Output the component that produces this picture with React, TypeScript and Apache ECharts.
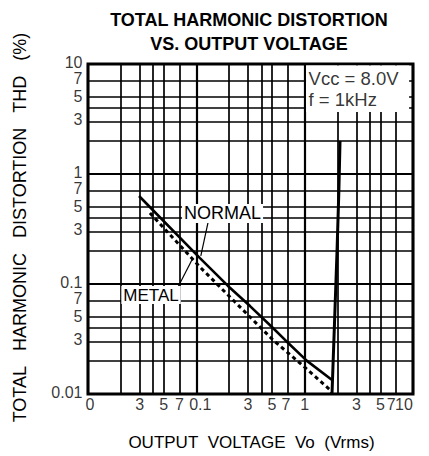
import React, { useEffect, useRef } from "react";
import * as echarts from "echarts";

// ---- data ----
const xGridValues = [0.02, 0.03, 0.04, 0.05, 0.07, 0.2, 0.3, 0.4, 0.5, 0.7, 2, 3, 4, 5, 7];
const yGridValues = [0.02, 0.03, 0.04, 0.05, 0.07, 0.2, 0.3, 0.4, 0.5, 0.7, 2, 3, 4, 5, 7];
const xTickValues = [0.01, 0.03, 0.05, 0.07, 0.1, 0.3, 0.5, 0.7, 1, 3, 5, 7, 10];
const xTickLabels = ["0", "3", "5", "7", "0.1", "3", "5", "7", "1", "3", "5", "7", "10"];
const yTickValues = [0.01, 0.03, 0.05, 0.07, 0.1, 0.3, 0.5, 0.7, 1, 3, 5, 7, 10];
const yTickLabels = ["0.01", "3", "5", "7", "0.1", "3", "5", "7", "1", "3", "5", "7", "10"];

const normalX = [0.0296, 0.108, 0.196, 0.313, 0.51, 0.659, 1.05, 1.79];
const normalY = [0.631, 0.172, 0.096, 0.063, 0.0398, 0.031, 0.02, 0.0134];
const metalX = [0.0373, 0.108, 0.2275, 0.51, 0.945, 1.714, 1.788];
const metalY = [0.442, 0.1427, 0.0686, 0.031, 0.0184, 0.0109, 0.01];
const riseX = [1.788, 1.99, 2.07, 2.12];
const riseY = [0.01, 0.2, 0.72, 2.0];

const normalLeaderX = [0.128, 0.11];
const normalLeaderY = [0.359, 0.18];
const metalLeaderX = [0.0663, 0.093];
const metalLeaderY = [0.09, 0.172];

const curveNames = ["NORMAL", "METAL"];
const curveNameX = [0.1746, 0.0382];
const curveNameY = [0.4376, 0.0794];
const condLines = ["Vcc = 8.0V", "f = 1kHz"];
const condX = [1.075, 1.075];
const condY = [7.38, 4.71];
const condBox = [
  [1.03, 3.66],
  [9.2, 9.7],
];

const titleLines = ["TOTAL HARMONIC DISTORTION", "VS. OUTPUT VOLTAGE"];
const yName = "TOTAL\u00A0\u00A0\u00A0HARMONIC\u00A0\u00A0\u00A0DISTORTION\u00A0\u00A0\u00A0THD\u00A0\u00A0\u00A0(%)";
const xName = "OUTPUT\u00A0\u00A0VOLTAGE\u00A0\u00A0Vo\u00A0\u00A0(Vrms)";

const FONT = "'Liberation Sans', Arial, Helvetica, sans-serif";

const zip = (xs: number[], ys: number[]) => xs.map((x, i) => [x, ys[i]]);

export default function App() {
  const ref = useRef<HTMLDivElement>(null);
  useEffect(() => {
    if (!ref.current) return;
    const chart = echarts.init(ref.current, null, { renderer: "svg" });

    const axisCommon = {
      type: "log",
      logBase: 10,
      min: 0.01,
      max: 10,
      axisLine: { show: false },
      axisTick: { show: false },
      axisLabel: { show: false },
      splitLine: { show: true, lineStyle: { color: "#000", width: 2.2 } },
    };

    const curveBase = {
      type: "line",
      symbol: "none",
      showSymbol: false,
      silent: true,
      z: 3,
      clip: false,
    };

    const textStyle = { color: "#000", fontFamily: FONT, fontSize: 16, textBorderWidth: 0 };

    const xLabelOffset = (i: number) => {
      const t = xTickLabels[i];
      if (t === "10") return [-9, 0];
      if (t === "0.1") return [4, 0];
      if (t === "0") return [2, 0];
      if (t === "7" && xTickValues[i] > 1) return [-5, 0];
      if (t === "7" && xTickValues[i] > 0.1) return [-2, 0];
      return [0, 0];
    };

    const yLabelOffset = (i: number) => {
      const t = yTickLabels[i];
      if (t === "7") return [0, -3];
      if (t === "5") return [0, -1];
      return [0, -2];
    };

    const baseGraphic: any[] = [
      {
        type: "text",
        x: 249,
        y: 19.5,
        style: {
          text: titleLines[0],
          fill: "#000",
          fontFamily: FONT,
          fontWeight: "bold",
          fontSize: 18,
          align: "center",
          verticalAlign: "middle",
        },
      },
      {
        type: "text",
        x: 249,
        y: 43.5,
        style: {
          text: titleLines[1],
          fill: "#000",
          fontFamily: FONT,
          fontWeight: "bold",
          fontSize: 18,
          align: "center",
          verticalAlign: "middle",
        },
      },
      {
        type: "text",
        x: 20,
        y: 227.5,
        rotation: Math.PI / 2,
        style: {
          text: yName,
          fill: "#000",
          fontFamily: FONT,
          fontSize: 18,
          align: "center",
          verticalAlign: "middle",
        },
      },
      {
        type: "text",
        x: 251.5,
        y: 442,
        style: {
          text: xName,
          fill: "#000",
          fontFamily: FONT,
          fontSize: 17,
          align: "center",
          verticalAlign: "middle",
        },
      },
    ];

    const option: any = {
      animation: false,
      backgroundColor: "#fff",
      grid: {
        left: 88,
        top: 64,
        width: 325,
        height: 330,
        show: true,
        borderColor: "#000",
        borderWidth: 3,
        backgroundColor: "transparent",
      },
      xAxis: { ...axisCommon },
      yAxis: { ...axisCommon },
      graphic: baseGraphic,
      series: [
        // minor grid lines
        {
          type: "line",
          data: [[0.01, 0.01]],
          symbol: "none",
          silent: true,
          lineStyle: { width: 0 },
          markLine: {
            silent: true,
            z: 1,
            animation: false,
            symbol: ["none", "none"],
            label: { show: false },
            lineStyle: { color: "#000", width: 1.7, type: "solid" },
            data: [
              ...xGridValues.map((v) => ({ xAxis: v })),
              ...yGridValues.map((v) => ({ yAxis: v })),
            ],
          },
        },
        // white box behind conditions text
        {
          type: "line",
          data: [[0.01, 0.01]],
          symbol: "none",
          silent: true,
          lineStyle: { width: 0 },
          markArea: {
            silent: true,
            z: 2,
            animation: false,
            itemStyle: { color: "#fff" },
            data: [[{ coord: condBox[0] }, { coord: condBox[1] }]],
          },
        },
        {
          ...curveBase,
          name: "NORMAL",
          data: zip(normalX, normalY),
          lineStyle: { color: "#000", width: 2.6, type: "solid" },
        },
        {
          ...curveBase,
          name: "METAL",
          data: zip(metalX, metalY),
          lineStyle: { color: "#000", width: 3, type: [4, 3.5] },
        },
        {
          ...curveBase,
          name: "rise",
          data: zip(riseX, riseY),
          lineStyle: { color: "#000", width: 3, type: "solid" },
        },
        {
          ...curveBase,
          name: "normalLeader",
          data: zip(normalLeaderX, normalLeaderY),
          lineStyle: { color: "#000", width: 1.2 },
        },
        {
          ...curveBase,
          name: "metalLeader",
          data: zip(metalLeaderX, metalLeaderY),
          lineStyle: { color: "#000", width: 1.2 },
        },
        // x tick labels
        {
          type: "scatter",
          silent: true,
          clip: false,
          z: 4,
          symbolSize: 1,
          itemStyle: { color: "rgba(0,0,0,0)" },
          data: xTickValues.map((v, i) => ({
            value: [v, 0.01],
            label: { formatter: xTickLabels[i], offset: xLabelOffset(i) },
          })),
          label: { show: true, position: "bottom", distance: 3, lineHeight: 14, ...textStyle },
        },
        // y tick labels
        {
          type: "scatter",
          silent: true,
          clip: false,
          z: 4,
          symbolSize: 1,
          itemStyle: { color: "rgba(0,0,0,0)" },
          data: yTickValues.map((v, i) => ({
            value: [0.01, v],
            label: { formatter: yTickLabels[i], offset: yLabelOffset(i) },
          })),
          label: {
            show: true,
            position: "left",
            distance: 5,
            lineHeight: 13,
            ...textStyle,
          },
        },
        // conditions text
        {
          type: "scatter",
          silent: true,
          clip: false,
          z: 5,
          symbolSize: 1,
          itemStyle: { color: "rgba(0,0,0,0)" },
          data: condLines.map((t, i) => ({
            value: [condX[i], condY[i]],
            label: { formatter: t },
          })),
          label: { show: true, position: "right", distance: 0, ...textStyle, fontSize: 18.5 },
        },
      ],
    };

    chart.setOption(option);

    // curve name labels, placed through the chart's own scales
    const nameGraphic = curveNames.map((name, i) => {
      const p = chart.convertToPixel({ xAxisIndex: 0, yAxisIndex: 0 }, [curveNameX[i], curveNameY[i]]) as number[];
      return {
        type: "text",
        x: p[0],
        y: p[1],
        z: 10,
        style: {
          text: name,
          fill: "#000",
          fontFamily: FONT,
          fontSize: i === 0 ? 18 : 17,
          align: "center",
          verticalAlign: "middle",
          backgroundColor: "#fff",
          padding: [1, 2, 0, 2],
        },
      };
    });
    chart.setOption({ graphic: [...baseGraphic, ...nameGraphic] });

    return () => chart.dispose();
  }, []);

  return (
    <div
      ref={ref}
      style={{ position: "fixed", left: 0, top: 0, width: 429, height: 456, background: "#fff" }}
    />
  );
}
